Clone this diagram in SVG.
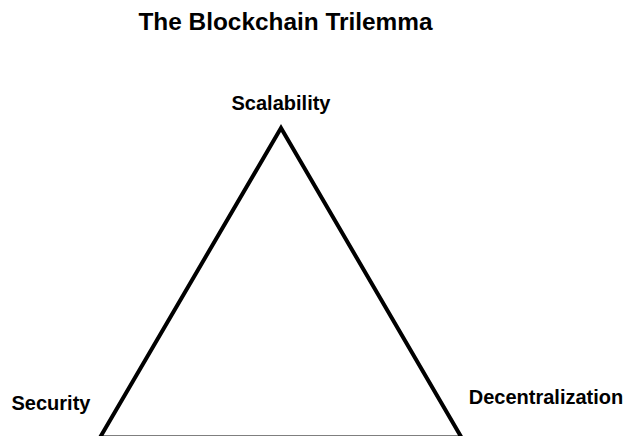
<svg xmlns="http://www.w3.org/2000/svg" width="627" height="436" viewBox="0 0 627 436">
<style>
  text { font-family: "Liberation Sans", Arial, sans-serif; font-weight: bold; fill: #000; }
  .title { font-size: 24.4px; }
  .label { font-size: 20px; }
  .edge { fill: none; stroke: #000; stroke-width: 4; stroke-linejoin: miter; }
</style>
<rect width="627" height="436" fill="#fff"/>
<text class="title" x="285.5" y="30" text-anchor="middle">The Blockchain Trilemma</text>
<g id="connectors">
  <path class="edge" d="M 281 128 L 100 437.5 L 461.5 437.5 Z"/>
</g>
<g id="node-scalability">
  <text class="label" x="281" y="110" text-anchor="middle">Scalability</text>
</g>
<g id="node-security">
  <text class="label" x="51" y="410" text-anchor="middle">Security</text>
</g>
<g id="node-decentralization">
  <text class="label" x="546" y="404" text-anchor="middle">Decentralization</text>
</g>
</svg>
